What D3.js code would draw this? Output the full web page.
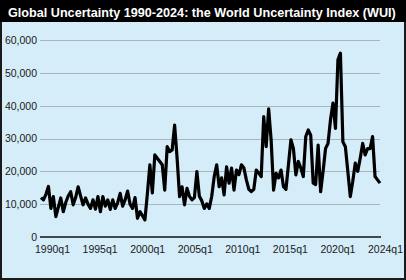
<!DOCTYPE html>
<html><head><meta charset="utf-8">
<script src="https://cdn.jsdelivr.net/npm/d3@7"></script>
<style>html,body{margin:0;padding:0;background:#fff}svg{display:block}</style>
</head><body>
<svg id="c" width="406" height="280"></svg>
<script>
const title = "Global Uncertainty 1990-2024: the World Uncertainty Index (WUI)";
const xLabels = ["1990q1","1995q1","2000q1","2005q1","2010q1","2015q1","2020q1","2024q1"];
const yTicks = [0,10000,20000,30000,40000,50000,60000];
// quarterly WUI values, 1990q1 .. 2024q2
const wui = [
 12000,11300,13000,15400,8700,12300,6200,9000,11900,7700,
 10500,12500,13800,9800,12000,15300,12500,9800,11900,10000,
 8700,11300,8500,12300,7700,12300,9400,11300,8400,11300,
 8700,10500,13300,9400,11300,14000,10000,8700,12000,5700,
 7700,6500,5200,13300,22000,13400,25000,24000,23000,22000,
 14300,27500,26000,26500,34100,24000,12300,15300,9800,14800,
 12400,11300,12000,19900,12400,11000,8700,10100,8700,12400,
 18400,22000,15300,18000,12800,21400,16400,21000,14300,20400,
 19000,22000,21000,17400,14500,13800,14500,20400,19500,18400,
 36700,27500,39000,29600,14300,19400,18000,20400,15300,14500,
 22000,29600,27000,18900,23000,21000,18400,30600,32600,31000,
 16400,16000,28000,13800,20000,27000,28500,35700,40800,33100,
 54000,56000,29000,27500,20000,12300,17000,22500,20000,24000,
 28500,25000,26900,26900,30600,18400,17400,16400
];

const svg = d3.select("#c");
const W = 406, H = 280;

svg.append("rect").attr("x",1).attr("y",1).attr("width",W-2).attr("height",H-2)
  .attr("fill","#d4edf9").attr("stroke","#1a1a1a").attr("stroke-width",2);
svg.append("rect").attr("x",0).attr("y",0).attr("width",W).attr("height",22).attr("fill","#000");
const t = svg.append("text").attr("x",8).attr("y",17)
  .attr("fill","#fff").attr("font-family","'Liberation Sans Narrow','Liberation Sans',sans-serif")
  .attr("font-weight","bold").attr("font-size",16)
  .text(title);
const tw = t.node().getComputedTextLength();
t.attr("font-size", Math.min(18, 16 * 388 / tw));

const x = d3.scaleLinear().domain([0, wui.length-1]).range([41, 380]);
const y = d3.scaleLinear().domain([0, 60000]).range([237, 40]);
const xl = d3.scalePoint().domain(xLabels).range([52, 385]);

// gridlines
svg.append("g").selectAll("line").data(yTicks.filter(d=>d>0)).join("line")
  .attr("x1",40).attr("x2",380).attr("y1",d=>Math.round(y(d))+0.5).attr("y2",d=>Math.round(y(d))+0.5)
  .attr("stroke","#a9b4ba").attr("stroke-width",1);

// y axis labels
const ya = svg.append("g").attr("transform","translate(40,0)")
  .call(d3.axisLeft(y).tickValues(yTicks).tickFormat(d3.format(",")).tickSize(0).tickPadding(3));
ya.select(".domain").remove();
ya.selectAll("text").attr("font-family","'Liberation Sans',Arial,sans-serif").attr("font-size",10.5).attr("fill","#1a1a1a");

// x axis labels
const xa = svg.append("g").attr("transform","translate(0,237)")
  .call(d3.axisBottom(xl).tickSize(0).tickPadding(9));
xa.select(".domain").remove();
xa.selectAll("text").attr("font-family","'Liberation Sans',Arial,sans-serif").attr("font-size",10.5).attr("fill","#1a1a1a");

// zero line
svg.append("line").attr("x1",40).attr("x2",381).attr("y1",y(0)).attr("y2",y(0))
  .attr("stroke","#111").attr("stroke-width",1.5);

// series
svg.append("path").datum(wui)
  .attr("fill","none").attr("stroke","#000").attr("stroke-width",3.2)
  .attr("stroke-linejoin","round").attr("stroke-linecap","butt")
  .attr("d", d3.line().x((d,i)=>x(i)).y(d=>y(d)));
</script>
</body></html>
